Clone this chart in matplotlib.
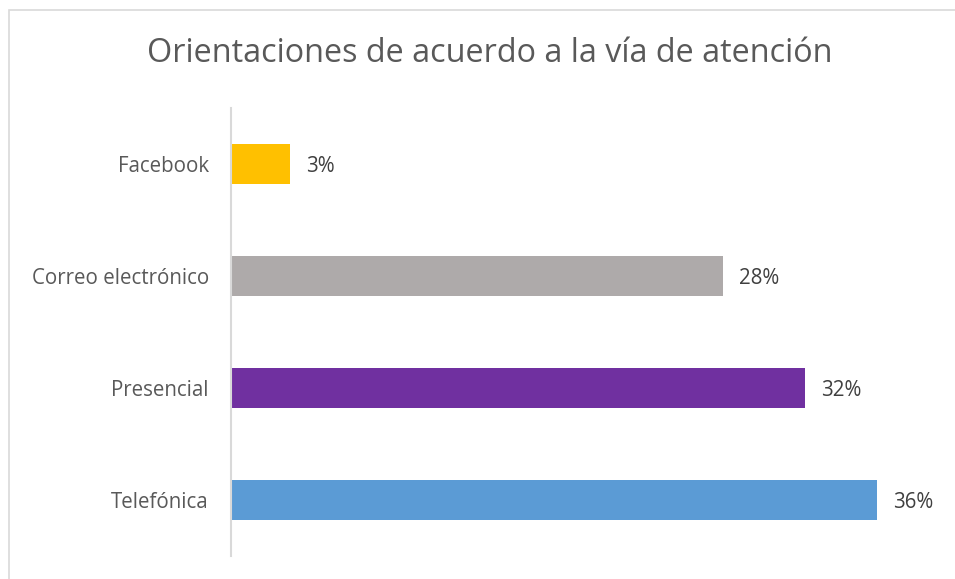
import matplotlib.pyplot as plt
from matplotlib.patches import Rectangle

plt.rcParams['font.family'] = ['Open Sans', 'DejaVu Sans']

# data (top to bottom as shown)
categories = ['Facebook', 'Correo electrónico', 'Presencial', 'Telefónica']
values = [3.3, 27.4, 32.0, 36.0]
labels = ['3%', '28%', '32%', '36%']
colors = ['#FFC000', '#AEAAAA', '#7030A0', '#5B9BD5']

W, H = 955, 579
fig = plt.figure(figsize=(W / 100, H / 100), dpi=100)

# faint chart frame (cropped on right and bottom)
fig.patches.append(Rectangle((9 / W, -0.1), 1.2, 1 - 10 / H + 0.1, transform=fig.transFigure,
                             fill=False, edgecolor='#D9D9D9', linewidth=1.2))

ax = fig.add_axes([231 / W, 1 - 556 / H, 700 / W, 448 / H])
ypos = list(range(len(categories)))[::-1]
ax.barh(ypos, values, height=0.357, color=colors)
ax.set_xlim(0, 700 / 17.94)
ax.set_ylim(-0.5, 3.5)

for y, v, lab in zip(ypos, values, labels):
    ax.text(v + 0.9, y, lab, va='center_baseline', ha='left', fontsize=14.8, color='#404040')

ax.set_yticks(ypos)
ax.set_yticklabels(categories, fontsize=14.8, color='#595959', va='center_baseline')
ax.tick_params(axis='y', length=0, pad=16)
ax.set_xticks([])
for s in ['top', 'right', 'bottom']:
    ax.spines[s].set_visible(False)
ax.spines['left'].set_color('#D9D9D9')
ax.spines['left'].set_linewidth(1.5)

fig.text(490 / W, 1 - 54 / H, 'Orientaciones de acuerdo a la vía de atención',
         ha='center', va='center', fontsize=23.3, color='#595959')

fig.savefig('out.png', dpi=100)
